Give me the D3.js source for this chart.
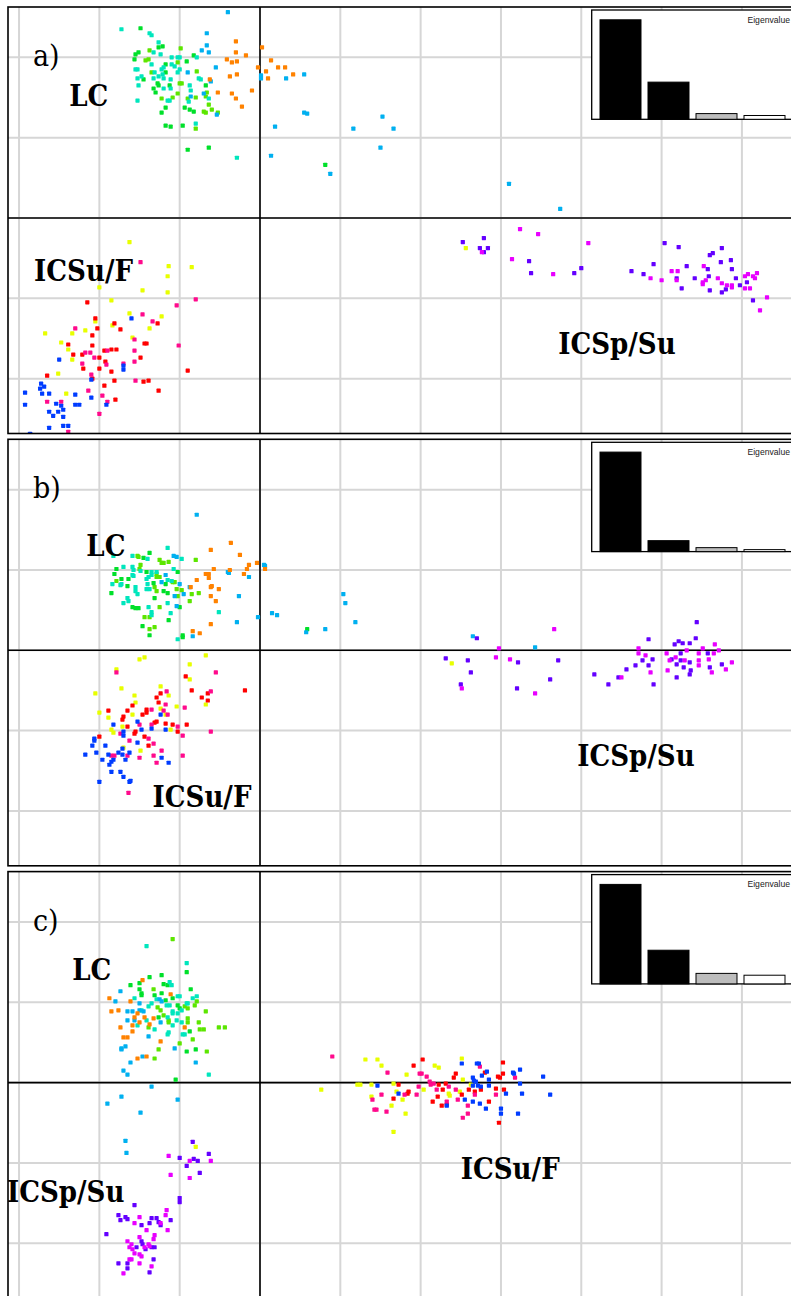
<!DOCTYPE html>
<html>
<head>
<meta charset="utf-8">
<script src="https://cdn.jsdelivr.net/npm/d3@7"></script>
<style>
  html, body { margin: 0; padding: 0; background: #fff; }
  svg { display: block; }
  .lbl { font-family: "DejaVu Serif Condensed", "DejaVu Serif", serif; font-stretch: condensed; fill: #000; }
  .eig { font-family: "Liberation Sans", Arial, sans-serif; font-size: 8.6px; fill: #222; }
</style>
</head>
<body>
<script>
// ---- groups (sampling months / sites), colour per group ----
const groupNames  = ["lime", "green", "teal", "sky", "orange", "yellow", "red", "pink", "blue", "violet", "magenta"];
const groupColors = ["#5ce600", "#00e02a", "#00e6bd", "#00b0f0", "#ff8200", "#e8ff00", "#ff0000", "#ff0a8c", "#003cff", "#6400ff", "#e800ff"];

// ---- panel titles, cluster labels and eigenvalues ----
const panelTitles = ["a)", "b)", "c)"];
const clusterNames = ["LC", "ICSu/F", "ICSp/Su"];
const eigTitle = "Eigenvalue";
const eigA = [68.0, 25.4, 3.9, 2.6];
const eigB = [85.5, 9.4, 3.4, 1.7];
const eigC = [65.3, 22.1, 6.9, 5.7];

// ---- PCA scores, panel a ----
const aLime = [[-0.79,1.69],[-1.10,1.67],[-1.14,1.57],[-1.11,1.58],[-0.82,1.55],[-1.08,1.45],[-0.63,1.46],[-0.80,1.34],[-0.78,1.34],[-0.82,1.24],[-0.53,1.25],[-0.87,1.20],[-0.98,1.19],[-0.72,1.19],[-0.64,1.20],[-0.54,1.21],[-0.56,1.06],[-0.54,1.05],[-0.51,1.13],[-0.48,1.08],[-0.42,1.05],[-0.64,0.89]];
const aGreen = [[-1.19,1.89],[-0.97,1.71],[-1.01,1.70],[-1.21,1.65],[-1.24,1.63],[-1.25,1.58],[-0.66,1.62],[-0.73,1.56],[-0.94,1.53],[-0.94,1.45],[-1.16,1.38],[-1.02,1.34],[-1.01,1.32],[-0.90,1.32],[-1.06,1.29],[-1.04,1.25],[-0.54,1.32],[-0.94,1.10],[-0.98,1.05],[-0.75,1.10],[-0.70,1.08],[-0.66,1.06],[-0.94,0.92],[-0.89,0.91],[-0.77,0.92],[-0.72,0.68],[-0.51,0.70],[0.65,0.53]];
const aTeal = [[-1.38,1.88],[-1.10,1.84],[-1.08,1.82],[-1.01,1.75],[-1.06,1.65],[-0.99,1.63],[-0.63,1.60],[-0.88,1.60],[-0.82,1.60],[-0.80,1.60],[-0.88,1.53],[-0.85,1.51],[-1.08,1.53],[-1.24,1.48],[-1.22,1.48],[-1.05,1.45],[-0.98,1.48],[-0.96,1.50],[-0.82,1.45],[-0.80,1.48],[-1.22,1.39],[-1.18,1.41],[-1.06,1.39],[-1.01,1.41],[-0.96,1.39],[-0.89,1.38],[-0.97,1.43],[-0.70,1.32],[-0.61,1.39],[-0.59,1.38],[-1.21,1.32],[-0.96,1.29],[-0.89,1.29],[-0.69,1.27],[-0.92,1.17],[-0.90,1.17],[-0.71,1.16],[-0.51,1.19],[-1.22,1.17],[-0.64,0.94],[-0.23,0.60]];
const aSky = [[-0.32,2.05],[-0.53,1.84],[-0.53,1.72],[-0.58,1.67],[-0.51,1.65],[-0.44,1.50],[-0.72,1.45],[-0.49,1.36],[-0.56,1.24],[-0.69,1.21],[-0.43,1.03],[0.01,1.42],[0.01,1.39],[0.26,1.39],[0.44,1.43],[0.44,1.05],[0.47,1.04],[0.15,0.91],[0.11,0.62],[0.93,0.89],[1.22,1.01],[1.33,0.89],[1.20,0.70],[0.70,0.44],[2.48,0.34],[2.99,0.09]];
const aOrange = [[-0.24,1.76],[0.02,1.70],[-0.24,1.65],[-0.33,1.58],[-0.28,1.55],[-0.23,1.56],[-0.14,1.62],[0.11,1.57],[-0.02,1.50],[0.06,1.46],[0.18,1.50],[0.25,1.50],[0.33,1.43],[0.08,1.39],[-0.30,1.41],[-0.23,1.43],[-0.50,1.38],[-0.08,1.27],[-0.42,1.25],[-0.28,1.24],[-0.24,1.19],[-0.18,1.11]];
const aYellow = [[-1.30,-0.24],[-0.91,-0.48],[-0.68,-0.49],[-0.92,-0.58],[-1.69,-0.49],[-1.60,-0.69],[-1.17,-0.72],[-0.92,-0.74],[-1.48,-0.82],[-1.30,-0.95],[-0.98,-0.98],[-1.64,-1.03],[-1.47,-1.07],[-1.10,-1.10],[-1.74,-1.12],[-2.14,-1.15],[-1.87,-1.15],[-1.27,-1.19],[-1.98,-1.24],[-1.91,-1.31],[-1.87,-1.41],[-2.01,-1.55],[-1.93,-1.75],[2.05,-0.30]];
const aRed = [[-1.72,-0.84],[-1.64,-1.00],[-1.62,-1.10],[-1.45,-1.05],[-1.39,-1.11],[-1.02,-1.05],[-1.67,-1.17],[-1.91,-1.26],[-1.67,-1.27],[-1.86,-1.36],[-1.77,-1.36],[-1.55,-1.32],[-1.48,-1.31],[-1.43,-1.31],[-1.15,-1.25],[-1.13,-1.25],[-1.19,-1.39],[-1.60,-1.39],[-1.54,-1.43],[-1.76,-1.50],[-1.60,-1.50],[-1.48,-1.53],[-2.12,-1.57],[-1.67,-1.60],[-1.45,-1.62],[-1.16,-1.63],[-1.11,-1.62],[-1.55,-1.67],[-1.01,-1.72],[-0.72,-1.52],[-1.44,-1.81]];
const aPink = [[-1.19,-0.44],[-0.64,-0.81],[-0.83,-0.87],[-1.17,-0.96],[-1.07,-1.03],[-1.84,-1.10],[-1.25,-1.21],[-0.81,-1.27],[-1.74,-1.34],[-1.69,-1.34],[-1.52,-1.32],[-1.25,-1.32],[-1.65,-1.39],[-1.77,-1.45],[-1.53,-1.46],[-1.36,-1.45],[-1.25,-1.43],[-1.68,-1.56],[-1.24,-1.62],[-1.71,-1.72],[-1.57,-1.77],[-2.12,-1.83],[-1.98,-1.83],[-1.52,-1.83],[-1.60,-1.95],[-1.91,-2.13]];
const aBlue = [[-1.28,-1.00],[-2.00,-1.41],[-1.36,-1.47],[-1.36,-1.51],[-1.68,-1.61],[-2.18,-1.65],[-2.15,-1.68],[-2.19,-1.70],[-2.17,-1.75],[-2.10,-1.75],[-2.34,-1.74],[-2.34,-1.86],[-1.84,-1.76],[-1.84,-1.86],[-1.80,-1.86],[-2.03,-1.85],[-1.98,-1.87],[-1.68,-1.79],[-1.53,-1.86],[-2.10,-1.93],[-2.06,-1.97],[-2.01,-1.93],[-1.96,-1.91],[-1.96,-1.98],[-1.96,-2.07],[-1.91,-2.07],[-2.10,-2.09],[-2.29,-2.15],[-2.14,-2.17],[-2.09,-2.17]];
const aViolet = [[2.02,-0.24],[2.23,-0.20],[2.19,-0.30],[2.27,-0.30],[2.23,-0.34],[2.68,-0.43],[2.70,-0.55],[3.13,-0.55],[3.20,-0.50],[3.70,-0.53],[3.82,-0.56],[3.92,-0.46],[4.03,-0.25],[4.17,-0.29],[4.25,-0.48],[4.15,-0.60],[4.20,-0.70],[4.33,-0.60],[4.48,-0.37],[4.51,-0.35],[4.60,-0.30],[4.46,-0.51],[4.47,-0.58],[4.59,-0.44],[4.69,-0.42],[4.70,-0.51],[4.74,-0.60],[4.48,-0.72],[4.60,-0.74],[4.64,-0.71],[4.78,-0.67],[4.85,-0.64],[4.91,-0.82]];
const aMagenta = [[2.59,-0.11],[2.77,-0.16],[3.27,-0.25],[2.51,-0.41],[2.92,-0.56],[2.21,-0.34],[3.89,-0.60],[4.00,-0.62],[4.10,-0.53],[4.16,-0.53],[4.15,-0.62],[4.42,-0.48],[4.44,-0.62],[4.41,-0.64],[4.41,-0.66],[4.56,-0.60],[4.60,-0.65],[4.65,-0.67],[4.70,-0.67],[4.70,-0.69],[4.83,-0.58],[4.86,-0.56],[4.91,-0.58],[4.93,-0.60],[4.95,-0.55],[4.83,-0.70],[4.88,-0.70],[5.05,-0.79],[4.98,-0.92]];

// ---- PCA scores, panel b ----
const bLime = [[-1.22,0.94],[-1.21,0.93],[-1.00,0.90],[-0.98,0.87],[-0.96,0.87],[-0.91,0.88],[-0.64,0.90],[-1.20,0.81],[-1.19,0.85],[-1.03,0.76],[-1.43,0.69],[-1.03,0.73],[-1.00,0.73],[-0.87,0.68],[-0.85,0.68],[-1.05,0.63],[-1.03,0.59],[-0.83,0.61],[-0.78,0.60],[-0.82,0.54],[-0.68,0.56],[-0.61,0.57],[-0.70,0.49],[-1.00,0.43],[-1.15,0.33],[-1.10,0.33],[-1.10,0.21],[-1.05,0.23]];
const bGreen = [[-1.10,0.97],[-1.16,0.92],[-1.43,0.81],[-1.45,0.76],[-1.13,0.78],[-0.82,0.78],[-1.38,0.71],[-1.31,0.71],[-1.06,0.67],[-0.94,0.66],[-1.32,0.64],[-0.96,0.59],[-0.92,0.57],[-1.48,0.57],[-1.05,0.52],[-1.27,0.43],[-1.24,0.42],[-1.21,0.42],[-0.80,0.43],[-0.91,0.30],[-1.17,0.24],[-1.10,0.15],[-0.77,0.15],[-0.77,0.13],[0.47,0.21]];
const bTeal = [[-0.92,1.02],[-1.46,0.94],[-1.27,0.94],[-1.12,0.91],[-0.78,0.91],[-1.36,0.83],[-1.27,0.83],[-1.26,0.80],[-1.19,0.79],[-1.08,0.78],[-1.03,0.78],[-0.86,0.81],[-1.27,0.75],[-1.26,0.74],[-1.13,0.71],[-1.11,0.73],[-1.08,0.75],[-0.92,0.70],[-0.88,0.69],[-1.47,0.66],[-1.39,0.65],[-1.38,0.66],[-1.24,0.63],[-1.24,0.59],[-1.22,0.56],[-1.13,0.61],[-1.10,0.61],[-1.12,0.66],[-1.32,0.52],[-1.31,0.49],[-1.36,0.47],[-0.92,0.47],[-1.11,0.43],[-1.08,0.38],[-1.08,0.35],[-0.89,0.37],[-0.41,0.38],[-0.82,0.11]];
const bSky = [[-0.63,1.35],[-0.86,0.94],[-0.83,0.93],[-0.94,0.75],[-0.98,0.68],[-0.80,0.66],[-0.70,0.63],[-0.85,0.54],[-0.83,0.44],[-0.76,0.56],[-0.32,0.78],[-0.31,0.77],[-0.11,0.73],[0.04,0.85],[0.05,0.84],[-0.21,0.54],[-0.23,0.28],[-0.02,0.33],[0.12,0.37],[0.17,0.35],[0.46,0.18],[0.65,0.21],[0.83,0.56],[0.85,0.47],[0.95,0.28],[-0.67,0.14],[2.12,0.14],[2.74,0.03]];
const bOrange = [[-0.29,1.07],[-0.49,1.00],[-0.20,0.95],[-0.11,0.85],[-0.13,0.81],[-0.03,0.87],[0.05,0.81],[-0.46,0.81],[-0.54,0.76],[-0.51,0.76],[-0.51,0.72],[-0.16,0.76],[-0.63,0.70],[-0.48,0.64],[-0.49,0.63],[-0.69,0.63],[-0.41,0.61],[-0.49,0.54],[-0.44,0.49],[-0.30,0.80],[-0.49,0.26],[-0.67,0.19],[-0.60,0.17]];
const bYellow = [[-1.20,-0.09],[-1.15,-0.07],[-0.54,-0.05],[-0.70,-0.14],[-0.70,-0.29],[-1.43,-0.19],[-1.38,-0.38],[-1.64,-0.43],[-1.25,-0.45],[-0.99,-0.36],[-0.91,-0.45],[-1.24,-0.52],[-0.83,-0.56],[-0.54,-0.54],[-1.60,-0.62],[-1.51,-0.67],[-1.27,-0.64],[-0.99,-0.58],[-0.94,-0.64],[-1.37,-0.76],[-1.48,-0.79],[-1.46,-0.82],[-0.89,-0.79],[-1.36,-0.97],[-1.19,-1.00],[1.91,-0.13]];
const bRed = [[-0.74,-0.26],[-0.68,-0.40],[-0.15,-0.40],[-0.58,-0.47],[-0.52,-0.43],[-0.52,-0.50],[-1.03,-0.47],[-0.99,-0.43],[-1.01,-0.52],[-1.27,-0.55],[-1.51,-0.60],[-1.32,-0.60],[-1.13,-0.59],[-1.13,-0.62],[-1.17,-0.64],[-1.36,-0.66],[-1.37,-0.69],[-1.32,-0.76],[-1.05,-0.72],[-1.03,-0.71],[-0.94,-0.73],[-0.87,-0.74],[-0.73,-0.74],[-1.25,-0.83],[-1.24,-0.81],[-0.82,-0.81],[-1.15,-0.86],[-1.11,-0.95],[-1.60,-0.86]];
const bPink = [[-1.43,-0.22],[-0.44,-0.22],[-0.93,-0.41],[-0.49,-0.41],[-0.94,-0.54],[-0.75,-0.57],[-1.08,-0.59],[-0.96,-0.60],[-0.92,-0.64],[-1.20,-0.74],[-1.08,-0.74],[-0.82,-0.76],[-1.39,-0.83],[-0.77,-0.85],[-0.49,-0.81],[-1.30,-0.90],[-1.11,-0.88],[-1.06,-0.93],[-1.48,-1.05],[-1.45,-1.05],[-1.32,-1.05],[-1.20,-1.07],[-1.06,-1.05],[-0.98,-1.00],[-1.03,-1.12],[-0.77,-1.05],[-1.31,-1.42]];
const bBlue = [[-0.99,-0.64],[-1.46,-0.74],[-1.22,-0.71],[-1.36,-0.81],[-1.36,-0.85],[-1.18,-0.79],[-1.08,-0.78],[-0.94,-0.79],[-1.65,-0.88],[-1.65,-0.90],[-1.67,-0.95],[-1.54,-0.95],[-1.22,-0.92],[-1.63,-1.02],[-1.74,-1.04],[-1.51,-1.04],[-1.41,-1.02],[-1.37,-0.98],[-1.37,-1.04],[-1.30,-1.02],[-1.57,-1.09],[-1.46,-1.09],[-1.48,-1.11],[-1.50,-1.14],[-1.34,-1.09],[-0.98,-1.07],[-0.91,-1.12],[-1.48,-1.21],[-1.39,-1.21],[-1.36,-1.26],[-1.30,-1.31],[-1.29,-1.30],[-1.60,-1.31]];
const bViolet = [[2.16,0.12],[1.85,-0.08],[2.07,-0.10],[2.10,-0.22],[2.00,-0.34],[2.57,-0.12],[2.97,-0.10],[2.89,-0.29],[2.56,-0.38],[3.33,-0.24],[3.47,-0.34],[3.57,-0.27],[3.65,-0.19],[3.74,-0.15],[3.81,-0.10],[3.87,0.11],[3.91,-0.09],[3.87,-0.15],[3.92,-0.34],[4.10,-0.09],[4.15,-0.14],[4.19,-0.10],[4.28,-0.12],[4.15,-0.27],[4.22,-0.17],[4.29,-0.20],[4.28,-0.24],[4.13,0.06],[4.17,0.09],[4.21,0.07],[4.28,0.07],[4.34,0.12],[4.35,0.28],[4.19,-0.03],[4.48,-0.17],[4.46,-0.03],[4.60,-0.14]];
const bMagenta = [[2.93,0.21],[2.38,0.02],[2.01,-0.38],[2.35,-0.07],[2.49,-0.09],[2.74,-0.43],[3.60,-0.27],[3.77,0.02],[3.77,-0.03],[3.84,-0.05],[3.89,-0.22],[4.05,-0.03],[4.08,-0.10],[4.14,-0.07],[4.23,-0.10],[4.06,-0.20],[4.25,0.00],[4.41,0.02],[4.37,-0.03],[4.37,-0.10],[4.37,-0.15],[4.47,-0.09],[4.50,-0.22],[4.53,0.06],[4.57,0.00],[4.52,-0.03],[4.64,-0.19],[4.70,-0.12]];

// ---- PCA scores, panel c ----
const cLime = [[-0.87,1.43],[-1.06,0.93],[-0.63,0.81],[-0.65,0.77],[-0.75,0.76],[-0.72,0.74],[-1.02,0.75],[-0.99,0.72],[-0.54,0.71],[-0.96,0.67],[-0.91,0.62],[-0.91,0.60],[-0.72,0.64],[-0.72,0.60],[-0.61,0.60],[-1.11,0.55],[-0.60,0.53],[-0.56,0.53],[-0.41,0.55],[-0.35,0.55],[-0.67,0.43],[-0.80,0.39],[-1.01,0.33],[-0.53,0.31],[-1.05,0.24]];
const cGreen = [[-0.73,1.10],[-1.10,1.05],[-0.98,1.07],[-1.20,0.99],[-1.29,0.97],[-0.96,0.98],[-0.92,0.97],[-1.20,0.93],[-1.18,0.89],[-1.18,0.87],[-1.05,0.87],[-0.98,0.89],[-0.69,0.93],[-0.87,0.84],[-0.94,0.82],[-0.82,0.77],[-0.80,0.74],[-1.01,0.65],[-0.70,0.51],[-0.73,0.31],[-0.64,0.33],[-0.84,0.03]];
const cTeal = [[-1.13,1.36],[-0.73,1.19],[-0.90,1.00],[-0.88,0.97],[-0.82,0.86],[-0.80,0.86],[-0.67,0.84],[-0.63,0.86],[-1.25,0.84],[-1.11,0.76],[-1.08,0.79],[-1.03,0.83],[-0.93,0.77],[-0.90,0.77],[-0.73,0.79],[-0.72,0.79],[-1.18,0.72],[-0.87,0.71],[-0.87,0.69],[-0.82,0.69],[-0.78,0.72],[-1.13,0.62],[-0.92,0.65],[-0.83,0.62],[-0.78,0.60],[-1.22,0.57],[-0.87,0.57],[-1.05,0.53],[-0.92,0.48],[-0.91,0.50],[-0.77,0.48],[-0.75,0.48],[-0.51,0.08]];
const cSky = [[-1.39,0.91],[-1.44,0.81],[-1.20,0.79],[-1.00,0.83],[-0.98,0.81],[-1.32,0.71],[-1.27,0.71],[-1.20,0.72],[-1.16,0.71],[-1.32,0.62],[-1.25,0.62],[-0.99,0.60],[-1.11,0.46],[-1.38,0.34],[-1.34,0.36],[-1.38,0.33],[-0.85,0.34],[-1.17,0.26],[-1.29,0.20],[-0.64,0.20],[-1.36,0.12],[-1.32,0.08],[-1.08,-0.04],[-1.52,-0.21],[-1.38,-0.14],[-0.82,-0.17],[-1.19,-0.30],[-1.34,-0.58],[-1.33,-0.70]];
const cOrange = [[-1.17,1.02],[-0.89,0.88],[-1.50,0.84],[-1.29,0.81],[-1.48,0.71],[-1.41,0.72],[-1.22,0.69],[-1.25,0.65],[-1.15,0.65],[-1.20,0.60],[-1.06,0.64],[-1.10,0.58],[-1.27,0.57],[-1.39,0.55],[-0.75,0.55],[-1.27,0.51],[-1.36,0.45],[-1.32,0.45],[-0.99,0.41],[-1.13,0.26],[-1.22,0.24]];
const cYellow = [[1.05,0.23],[1.17,0.23],[1.21,0.17],[0.61,-0.07],[0.97,-0.02],[1.00,-0.02],[1.11,-0.02],[1.33,-0.01],[1.36,-0.09],[1.42,-0.17],[1.31,-0.23],[1.45,-0.31],[1.33,-0.49],[1.46,0.08],[1.74,0.17],[1.78,0.15],[1.63,-0.07],[1.88,-0.11],[1.89,-0.13],[2.01,0.24],[2.02,0.03],[1.99,-0.09],[2.10,-0.02],[1.11,-0.14],[-0.64,-0.64]];
const cRed = [[1.38,-0.02],[1.33,-0.16],[1.53,0.17],[1.62,0.23],[1.78,-0.02],[1.48,-0.09],[1.47,-0.11],[1.82,-0.07],[1.85,-0.01],[1.72,-0.19],[1.77,-0.14],[1.81,-0.23],[1.86,-0.22],[1.93,0.05],[1.95,0.09],[2.01,-0.12],[2.08,-0.07],[2.14,-0.09],[2.20,-0.07],[2.24,0.10],[2.28,-0.19],[2.35,-0.06],[2.37,0.06],[2.39,0.05],[2.42,0.09],[2.42,0.20],[2.43,-0.07],[2.38,-0.40]];
const cPink = [[0.72,0.26],[1.27,0.10],[1.21,-0.12],[1.12,-0.17],[1.14,-0.27],[1.16,-0.27],[1.26,-0.29],[1.59,0.09],[1.61,0.09],[1.66,0.06],[1.69,0.01],[1.73,-0.01],[1.70,-0.02],[1.58,-0.04],[1.44,-0.12],[1.56,-0.12],[1.76,-0.07],[1.88,-0.04],[1.86,-0.19],[1.95,-0.07],[1.97,-0.17],[2.07,-0.23],[2.02,-0.35],[2.07,-0.31],[2.19,0.16],[2.14,-0.12],[2.35,-0.12],[2.54,0.05]];
const cBlue = [[1.17,-0.03],[1.38,-0.11],[1.86,-0.23],[2.01,0.19],[2.04,-0.17],[2.12,0.05],[2.13,0.02],[2.15,0.01],[2.16,0.19],[2.18,0.19],[2.21,0.07],[2.26,0.11],[2.12,-0.03],[2.17,-0.03],[2.20,-0.04],[2.12,-0.19],[2.19,-0.21],[2.25,-0.26],[2.28,0.03],[2.28,-0.03],[2.45,-0.11],[2.40,-0.26],[2.40,-0.31],[2.52,0.10],[2.53,0.09],[2.59,0.13],[2.59,-0.01],[2.61,-0.11],[2.57,-0.31],[2.82,0.06],[2.89,-0.12]];
const cViolet = [[-0.67,-0.59],[-0.80,-0.75],[-0.66,-0.76],[-0.62,-0.78],[-0.51,-0.71],[-0.73,-0.83],[-0.60,-0.90],[-0.80,-1.15],[-0.80,-1.19],[-1.25,-1.22],[-1.41,-1.32],[-1.39,-1.37],[-1.34,-1.34],[-1.32,-1.36],[-1.18,-1.42],[-1.10,-1.40],[-1.08,-1.35],[-1.03,-1.35],[-1.01,-1.39],[-0.89,-1.37],[-0.99,-1.42],[-1.53,-1.51],[-1.18,-1.58],[-1.17,-1.61],[-1.23,-1.64],[-1.14,-1.66],[-1.08,-1.64],[-1.05,-1.64],[-1.06,-1.76],[-1.41,-1.80],[-1.32,-1.80],[-1.32,-1.85],[-1.10,-1.89]];
const cMagenta = [[-0.91,-0.73],[-0.70,-0.78],[-0.49,-0.78],[-0.89,-0.92],[-0.70,-0.95],[-1.20,-1.34],[-1.25,-1.40],[-0.99,-1.40],[-0.94,-1.32],[-0.93,-1.27],[-1.13,-1.47],[-0.92,-1.47],[-1.05,-1.52],[-1.06,-1.56],[-1.32,-1.58],[-1.20,-1.54],[-1.28,-1.61],[-1.30,-1.64],[-1.27,-1.66],[-1.11,-1.61],[-1.10,-1.63],[-1.15,-1.64],[-1.25,-1.70],[-1.20,-1.71],[-1.18,-1.73],[-1.30,-1.76],[-1.28,-1.76],[-1.20,-1.80],[-1.08,-1.83],[-1.36,-1.90]];

// cluster label anchors (start, baseline) in score units, one list per panel
const labelsA = [["LC", -1.90, 1.12], ["ICSu/F", -2.25, -0.63], ["ICSp/Su", 2.97, -1.35]];
const labelsB = [["LC", -1.73, 0.94], ["ICSu/F", -1.07, -1.56], ["ICSp/Su", 3.16, -1.15]];
const labelsC = [["LC", -1.87, 1.02], ["ICSp/Su", -2.52, -1.19], ["ICSu/F", 2.00, -0.96]];

const panels = [
  { title: panelTitles[0], eig: eigA, labels: labelsA,
    series: [aLime, aGreen, aTeal, aSky, aOrange, aYellow, aRed, aPink, aBlue, aViolet, aMagenta] },
  { title: panelTitles[1], eig: eigB, labels: labelsB,
    series: [bLime, bGreen, bTeal, bSky, bOrange, bYellow, bRed, bPink, bBlue, bViolet, bMagenta] },
  { title: panelTitles[2], eig: eigC, labels: labelsC,
    series: [cLime, cGreen, cTeal, cSky, cOrange, cYellow, cRed, cPink, cBlue, cViolet, cMagenta] }
];

// ---- layout ----
const W = 791, H = 1296;
const originX = 260;          // pixel position of the PC1 = 0 axis
const unit = 100.4;           // pixels per score unit
const gridStep = 0.8;
const panelPitch = 432.3;
const firstOrigin = 218;
const frameLeft = 8, frameTopOff = 211, frameBottomOff = 215.5;

const svg = d3.select("body").append("svg")
  .attr("width", W).attr("height", H);

panels.forEach((p, i) => {
  const oy = firstOrigin + i * panelPitch;
  const top = oy - frameTopOff, bottom = oy + frameBottomOff;

  const x = d3.scaleLinear().domain([0, 1]).range([originX, originX + unit]);
  const y = d3.scaleLinear().domain([0, 1]).range([oy, oy - unit]);

  const clipId = "clip" + i;
  svg.append("clipPath").attr("id", clipId)
    .append("rect").attr("x", frameLeft).attr("y", top)
    .attr("width", W - frameLeft + 10).attr("height", bottom - top);

  const g = svg.append("g").attr("clip-path", `url(#${clipId})`);

  // grid
  const xMin = x.invert(frameLeft), xMax = x.invert(W);
  const yMin = y.invert(bottom), yMax = y.invert(top);
  const xTicks = d3.range(Math.ceil(xMin / gridStep), Math.floor(xMax / gridStep) + 1).map(k => k * gridStep);
  const yTicks = d3.range(Math.ceil(yMin / gridStep), Math.floor(yMax / gridStep) + 1).map(k => k * gridStep);

  g.selectAll("line.gx").data(xTicks).join("line")
    .attr("x1", d => x(d)).attr("x2", d => x(d))
    .attr("y1", top).attr("y2", bottom)
    .attr("stroke", "#d6d6d6").attr("stroke-width", 2);
  g.selectAll("line.gy").data(yTicks).join("line")
    .attr("x1", frameLeft).attr("x2", W + 10)
    .attr("y1", d => y(d)).attr("y2", d => y(d))
    .attr("stroke", "#d6d6d6").attr("stroke-width", 2);

  // principal axes
  g.append("line").attr("x1", x(0)).attr("x2", x(0)).attr("y1", top).attr("y2", bottom)
    .attr("stroke", "#000").attr("stroke-width", 1.6);
  g.append("line").attr("x1", frameLeft).attr("x2", W + 10).attr("y1", y(0)).attr("y2", y(0))
    .attr("stroke", "#000").attr("stroke-width", 1.6);

  // points
  const s = 4.2;
  p.series.forEach((pts, k) => {
    g.append("g").selectAll("rect").data(pts).join("rect")
      .attr("x", d => x(d[0]) - s / 2).attr("y", d => y(d[1]) - s / 2)
      .attr("width", s).attr("height", s).attr("rx", 0.6)
      .attr("fill", groupColors[k]);
  });

  // eigenvalue inset
  const boxL = 591.7, boxT = oy - 208, boxB = oy - 98.7;
  g.append("rect").attr("x", boxL).attr("y", boxT)
    .attr("width", W - boxL + 20).attr("height", boxB - boxT)
    .attr("fill", "#fff").attr("stroke", "#000").attr("stroke-width", 1.3);
  const bx = d3.scaleBand().domain(d3.range(p.eig.length)).range([600, 785]).paddingInner(0.146);
  const by = d3.scaleLinear().domain([0, d3.max(p.eig)]).range([boxB, boxB - 99.5]);
  const barFill = ["#000", "#000", "#bdbdbd", "#fff"];
  g.selectAll("rect.bar").data(p.eig).join("rect")
    .attr("x", (d, j) => bx(j)).attr("width", bx.bandwidth())
    .attr("y", d => by(d)).attr("height", d => boxB - by(d))
    .attr("fill", (d, j) => barFill[j]).attr("stroke", "#000").attr("stroke-width", 1);
  g.append("text").attr("class", "eig").attr("x", 790).attr("y", oy - 195.5)
    .attr("text-anchor", "end").text(eigTitle);

  // labels
  g.append("text").attr("class", "lbl").attr("x", frameLeft + 25).attr("y", oy - 152)
    .attr("font-size", 30).text(p.title);
  p.labels.forEach(([t, lx, ly]) => {
    g.append("text").attr("class", "lbl").attr("x", x(lx)).attr("y", y(ly))
      .attr("font-size", 29).attr("font-weight", "bold").text(t);
  });

  // frame
  svg.append("rect").attr("x", frameLeft).attr("y", top)
    .attr("width", W - frameLeft + 20).attr("height", bottom - top)
    .attr("fill", "none").attr("stroke", "#000").attr("stroke-width", 1.6);
});
</script>
</body>
</html>
